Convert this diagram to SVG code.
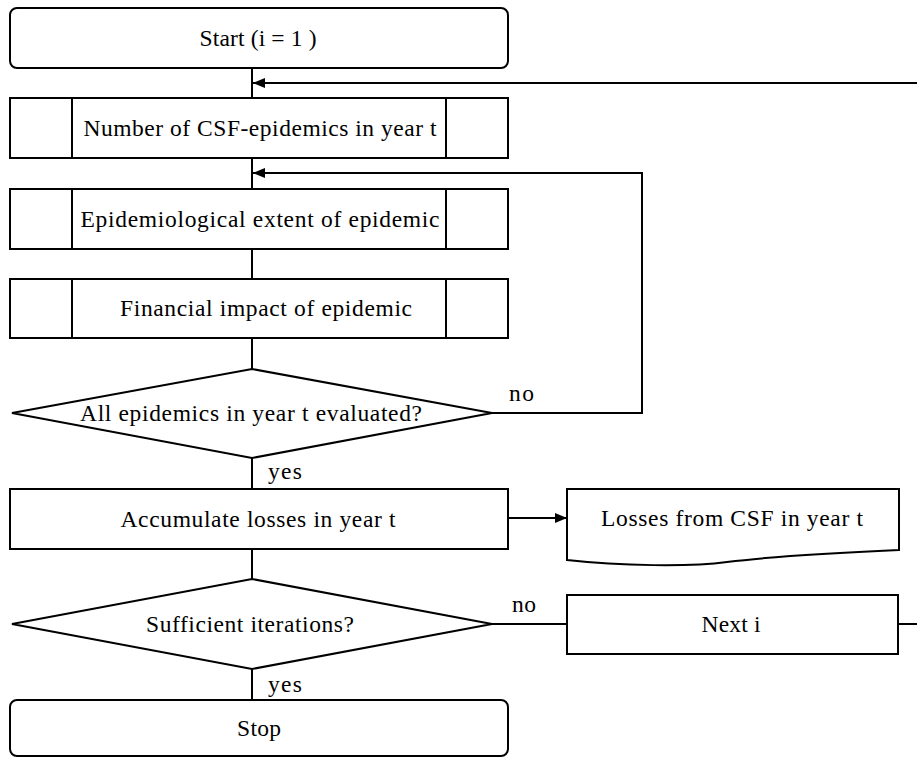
<svg xmlns="http://www.w3.org/2000/svg" width="917" height="757" viewBox="0 0 917 757">
<defs>
<style>
.s{fill:#fff;stroke:#000;stroke-width:2}
.c{fill:none;stroke:#000;stroke-width:2}
.t{font-family:"Liberation Serif","Times New Roman",serif;font-size:23.5px;fill:#000;text-anchor:middle}
.l{font-family:"Liberation Serif","Times New Roman",serif;font-size:23.5px;fill:#000}
</style>
<marker id="ah" markerUnits="userSpaceOnUse" markerWidth="12" markerHeight="10" refX="12" refY="5" orient="auto">
<path d="M0,0 L12,5 L0,10 Z" fill="#000"/>
</marker>
</defs>
<rect width="917" height="757" fill="#fff"/>
<g id="connectors">
<path class="c" d="M252,68 V98"/>
<path class="c" d="M898,624 H940 V83 H253" marker-end="url(#ah)"/>
<path class="c" d="M252,158 V189"/>
<path class="c" d="M492,413 H642 V173 H253" marker-end="url(#ah)"/>
<path class="c" d="M252,249 V279"/>
<path class="c" d="M252,338 V369"/>
<path class="c" d="M252,458 V489"/>
<path class="c" d="M508,518 H567" marker-end="url(#ah)"/>
<path class="c" d="M252,549 V579"/>
<path class="c" d="M492,624 H567"/>
<path class="c" d="M252,669 V700"/>
<text class="l" x="509" y="401" textLength="25">no</text>
<text class="l" x="268" y="479" textLength="34">yes</text>
<text class="l" x="512" y="612" textLength="24">no</text>
<text class="l" x="268" y="692" textLength="34">yes</text>
</g>
<g id="start">
<rect class="s" x="10" y="8" width="498" height="60" rx="7"/>
<text class="t" x="258" y="46" textLength="117">Start (i = 1 )</text>
</g>
<g id="number">
<rect class="s" x="10" y="98" width="498" height="60"/>
<path class="c" d="M72,98 V158 M446,98 V158"/>
<text class="t" x="260" y="136" textLength="353">Number of CSF-epidemics in year t</text>
</g>
<g id="extent">
<rect class="s" x="10" y="189" width="498" height="60"/>
<path class="c" d="M72,189 V249 M446,189 V249"/>
<text class="t" x="260" y="227" textLength="359">Epidemiological extent of epidemic</text>
</g>
<g id="financial">
<rect class="s" x="10" y="279" width="498" height="59"/>
<path class="c" d="M72,279 V338 M446,279 V338"/>
<text class="t" x="266" y="316" textLength="292">Financial impact of epidemic</text>
</g>
<g id="decision1">
<polygon class="s" points="252,369 492,413 252,458 12,413"/>
<text class="t" x="251" y="421" textLength="342">All epidemics in year t evaluated?</text>
</g>
<g id="accumulate">
<rect class="s" x="10" y="489" width="498" height="60"/>
<text class="t" x="258" y="527" textLength="275">Accumulate losses in year t</text>
</g>
<g id="losses">
<path class="s" d="M567,489 H899 V550 C830,553 775,556 727,562 C690,567 620,566 567,560 Z"/>
<text class="t" x="732" y="526" textLength="262">Losses from CSF in year t</text>
</g>
<g id="decision2">
<polygon class="s" points="252,579 492,624 252,669 12,624"/>
<text class="t" x="250" y="632" textLength="208">Sufficient iterations?</text>
</g>
<g id="next">
<rect class="s" x="567" y="595" width="331" height="59"/>
<text class="t" x="731" y="632" textLength="59">Next i</text>
</g>
<g id="stop">
<rect class="s" x="10" y="700" width="498" height="56" rx="7"/>
<text class="t" x="259" y="736" textLength="44">Stop</text>
</g>
</svg>
